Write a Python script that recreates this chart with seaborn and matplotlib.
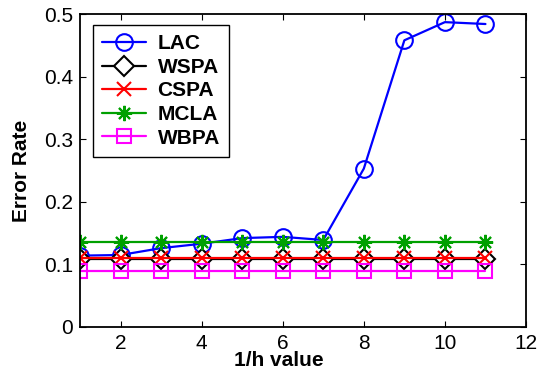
import matplotlib
matplotlib.use("Agg")
import matplotlib.pyplot as plt
import seaborn as sns
import numpy as np

sns.set_theme(style="white")
plt.rcParams['font.family'] = ['Liberation Sans', 'DejaVu Sans']
plt.rcParams['text.color'] = 'black'
plt.rcParams['axes.labelcolor'] = 'black'

x_vals = [1, 2, 3, 4, 5, 6, 7, 8, 9, 10, 11]
lac = [0.114, 0.115, 0.126, 0.133, 0.142, 0.144, 0.139, 0.253, 0.458, 0.487, 0.484]
wspa = [0.108] * 11
cspa = [0.111] * 11
mcla = [0.135] * 11
wbpa = [0.089] * 11

series_names = ["LAC", "WSPA", "CSPA", "MCLA", "WBPA"]
series_values = [lac, wspa, cspa, mcla, wbpa]
colors = ["#0000ff", "#000000", "#ff0000", "#00a000", "#ff00ff"]
markers = ["o", "D", "x", (8, 2, 0), "s"]
msizes = [12, 10, 10, 11, 10]

fig = plt.figure(figsize=(5.4, 3.7), dpi=100)
ax = fig.add_axes([80/540, 1 - 327/370, 446/540, 313/370])

for name, vals, c, m, ms in zip(series_names, series_values, colors, markers, msizes):
    kw = dict(marker=m, markersize=ms, markeredgecolor=c, markeredgewidth=1.5)
    if m == "D":
        kw["markerfacecolor"] = "white"
    elif m in ("o", "s"):
        kw["markerfacecolor"] = "none"
    else:
        kw["markerfacecolor"] = c
    sns.lineplot(x=x_vals, y=vals, ax=ax, color=c, linewidth=1.6, label=name, **kw)

ax.set_xlim(1, 12)
ax.set_ylim(0, 0.5)
ax.set_xticks([2, 4, 6, 8, 10, 12])
ax.set_yticks([0, 0.1, 0.2, 0.3, 0.4, 0.5])
ax.set_yticklabels(["0", "0.1", "0.2", "0.3", "0.4", "0.5"])
ax.tick_params(direction="in", length=4, width=0.8, top=True, right=True,
               labelsize=15, colors="black", labelcolor="black", pad=5,
               bottom=True, left=True)
for s in ax.spines.values():
    s.set_visible(True)
    s.set_color("black")
    s.set_linewidth(1.3)

ax.set_xlabel("1/h value", fontsize=15, fontweight="bold", color="black")
ax.set_ylabel("Error Rate", fontsize=15, fontweight="bold", color="black")
ax.xaxis.set_label_coords((279 - 80) / 446, -0.078)
ax.yaxis.set_label_coords(-0.11, 0.5)

leg = ax.legend(loc="upper left", bbox_to_anchor=(0.029, 0.965), borderaxespad=0,
                frameon=True, fancybox=False, framealpha=1, edgecolor="black",
                prop={"weight": "bold", "size": 15}, handlelength=2.1,
                labelspacing=0.22, borderpad=0.45, handletextpad=0.55)
leg.get_frame().set_linewidth(1.0)
for t in leg.get_texts():
    t.set_color("black")

fig.savefig("out.png", dpi=100)
